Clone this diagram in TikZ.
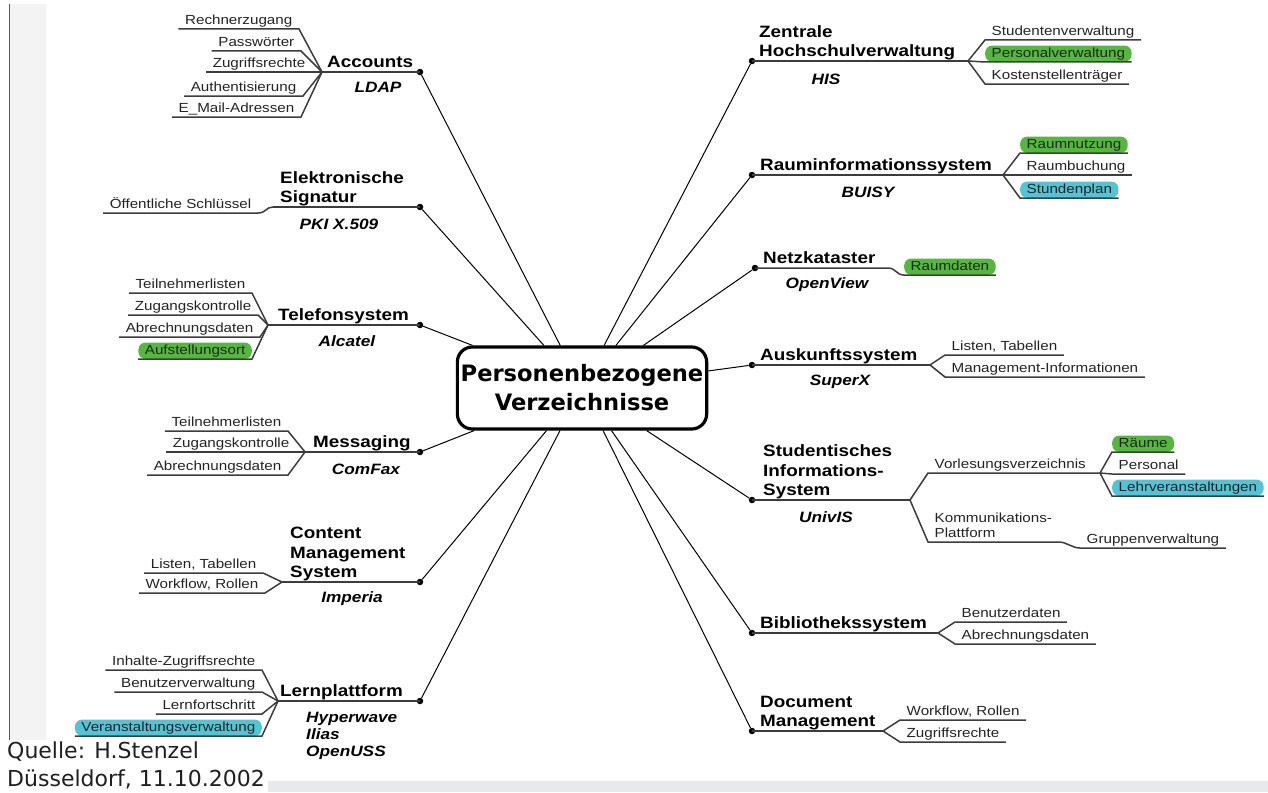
\documentclass[tikz,border=0pt]{standalone}
\usepackage{fontspec}
\setmainfont{Liberation Sans}[FakeStretch=1.15]
\newfontfamily\hubfont{DejaVu Sans}
\definecolor{leafgreen}{RGB}{84,184,62}
\definecolor{leafcyan}{RGB}{82,196,214}
\definecolor{stemgray}{RGB}{60,60,60}
\definecolor{leafink}{RGB}{35,35,35}
\definecolor{stripgray}{RGB}{243,243,244}
\definecolor{bandgray}{RGB}{232,233,235}
\begin{document}
\begin{tikzpicture}[x=1pt,y=-1pt,
    leafbase/.style={font=\fontsize{13.2}{15.5}\selectfont,text=leafink,inner xsep=6.5pt,inner ysep=2pt},
    leaf/.style={leafbase,text height=9.5pt,text depth=2.7pt},
    hlgreen/.style={leaf,fill=leafgreen,rounded corners=7pt},
    hlcyan/.style={leaf,fill=leafcyan,rounded corners=7pt},
    topic/.style={font=\fontsize{16.4}{19.5}\selectfont\bfseries,align=left,
      inner xsep=1pt,inner ysep=4pt,text depth=0pt,anchor=south west},
    system/.style={font=\fontsize{15}{16.8}\selectfont\bfseries\itshape,align=left,inner sep=1pt},
    knot/.style={circle,fill=black,inner sep=0pt,minimum size=6.5pt},
    stem/.style={draw=stemgray,line width=1.5pt},
    spoke/.style={draw=black,line width=1pt},
    hub/.style={draw,line width=3.2pt,rounded corners=15pt,minimum width=246pt,
      minimum height=82pt,align=center,font=\hubfont\fontsize{22.6}{29}\selectfont\bfseries}]
  \useasboundingbox (0,0) rectangle (1268,792);
  \fill[stripgray] (9,4) rectangle (46,740);
  \draw[gray!70!black,line width=1pt] (9,4) -- (9,740);
  \fill[bandgray] (268,781) rectangle (1268,792);

  \node[hub] (hub) at (582,388) {Personenbezogene\\Verzeichnisse};

  % linke Seite
  \node[knot] (accknot) at (420,72) {};
  \coordinate (accfan) at (322,72);
  \node[topic] (acc) at (326,72) {Accounts};
  \node[system] (accsys) at (378,87) {LDAP};
  \node[leaf,anchor=south east] (acc1) at (299,29) {Rechnerzugang};
  \node[leaf,anchor=south east] (acc2) at (301,51) {Passwörter};
  \node[leaf,anchor=south east] (acc3) at (312,72) {Zugriffsrechte};
  \node[leaf,anchor=south east] (acc4) at (303,96) {Authentisierung};
  \node[leaf,anchor=south east] (acc5) at (301,117) {E\_Mail-Adressen};
  \draw[stem] (accfan) -- (accknot.center);
  \foreach \n in {acc1,acc2,acc3,acc4,acc5}
    \draw[stem] (\n.south west) -- (\n.south east) -- (accfan);

  \node[knot] (sigknot) at (420,207) {};
  \coordinate (sigfan) at (273,207);
  \node[topic] (sig) at (279,207) {Elektronische\\Signatur};
  \node[system] (sigsys) at (339,224) {PKI X.509};
  \node[leaf,anchor=south east] (sig1) at (258,213) {Öffentliche Schlüssel};
  \draw[stem] (sigfan) -- (sigknot.center);
  \draw[stem] (sig1.south west) -- (sig1.south east) .. controls +(8,0) and +(-7,0) .. (sigfan);

  \node[knot] (telknot) at (420,325) {};
  \coordinate (telfan) at (268,325);
  \node[topic] (tel) at (277,325) {Telefonsystem};
  \node[system] (telsys) at (347,341) {Alcatel};
  \node[leaf,anchor=south east] (tel1) at (252,293) {Teilnehmerlisten};
  \node[leaf,anchor=south east] (tel2) at (258,315) {Zugangskontrolle};
  \node[leaf,anchor=south east] (tel3) at (260,337) {Abrechnungsdaten};
  \node[hlgreen,anchor=south east] (tel4) at (252,359) {Aufstellungsort};
  \draw[stem] (telfan) -- (telknot.center);
  \foreach \n in {tel1,tel2,tel3,tel4}
    \draw[stem] (\n.south west) -- (\n.south east) -- (telfan);

  \node[knot] (msgknot) at (420,452) {};
  \coordinate (msgfan) at (305,452);
  \node[topic] (msg) at (312,452) {Messaging};
  \node[system] (msgsys) at (366,469) {ComFax};
  \node[leaf,anchor=south east] (msg1) at (288,431) {Teilnehmerlisten};
  \node[leaf,anchor=south east] (msg2) at (296,452) {Zugangskontrolle};
  \node[leaf,anchor=south east] (msg3) at (288,475) {Abrechnungsdaten};
  \draw[stem] (msgfan) -- (msgknot.center);
  \foreach \n in {msg1,msg2,msg3}
    \draw[stem] (\n.south west) -- (\n.south east) -- (msgfan);

  \node[knot] (cmsknot) at (420,582) {};
  \coordinate (cmsfan) at (282,582);
  \node[topic] (cms) at (289,582) {Content\\Management\\System};
  \node[system] (cmssys) at (352,599) {Imperia};
  \node[leaf,anchor=south east] (cms1) at (263,573) {Listen, Tabellen};
  \node[leaf,anchor=south east] (cms2) at (265,593) {Workflow, Rollen};
  \draw[stem] (cmsfan) -- (cmsknot.center);
  \foreach \n in {cms1,cms2}
    \draw[stem] (\n.south west) -- (\n.south east) -- (cmsfan);

  \node[knot] (lrnknot) at (420,701) {};
  \coordinate (lrnfan) at (278,701);
  \node[topic] (lrn) at (279,701) {Lernplattform};
  \node[system,anchor=north west] (lrnsys) at (305,711) {Hyperwave\\Ilias\\OpenUSS};
  \node[leaf,anchor=south east] (lrn1) at (262,670) {Inhalte-Zugriffsrechte};
  \node[leaf,anchor=south east] (lrn2) at (262,692) {Benutzerverwaltung};
  \node[leaf,anchor=south east] (lrn3) at (262,714) {Lernfortschritt};
  \node[hlcyan,anchor=south east] (lrn4) at (262,736) {Veranstaltungsverwaltung};
  \draw[stem] (lrnfan) -- (lrnknot.center);
  \foreach \n in {lrn1,lrn2,lrn3,lrn4}
    \draw[stem] (\n.south west) -- (\n.south east) -- (lrnfan);

  % rechte Seite
  \node[knot] (hisknot) at (752,61) {};
  \coordinate (hisfan) at (968,61);
  \node[topic] (his) at (758,61) {Zentrale\\Hochschulverwaltung};
  \node[system] (hissys) at (826,79) {HIS};
  \node[leaf,anchor=south west] (his1) at (985,40) {Studentenverwaltung};
  \node[hlgreen,anchor=south west] (his2) at (985,62) {Personalverwaltung};
  \node[leaf,anchor=south west] (his3) at (985,84) {Kostenstellenträger};
  \draw[stem] (hisknot.center) -- (hisfan);
  \foreach \n in {his1,his2,his3}
    \draw[stem] (hisfan) -- (\n.south west) -- (\n.south east);

  \node[knot] (rmsknot) at (752,175) {};
  \coordinate (rmsfan) at (1003,175);
  \node[topic] (rms) at (759,175) {Rauminformationssystem};
  \node[system] (rmssys) at (868,192) {BUISY};
  \node[hlgreen,anchor=south west] (rms1) at (1020,153) {Raumnutzung};
  \node[leaf,anchor=south west] (rms2) at (1020,175) {Raumbuchung};
  \node[hlcyan,anchor=south west] (rms3) at (1020,198) {Stundenplan};
  \draw[stem] (rmsknot.center) -- (rmsfan);
  \foreach \n in {rms1,rms2,rms3}
    \draw[stem] (rmsfan) -- (\n.south west) -- (\n.south east);

  \node[knot] (netknot) at (755,268) {};
  \coordinate (netbend) at (888,268);
  \node[topic] (net) at (762,268) {Netzkataster};
  \node[system] (netsys) at (827,285) {OpenView};
  \node[hlgreen,anchor=south west] (net1) at (904,275) {Raumdaten};
  \draw[stem] (netknot.center) -- (netbend) .. controls +(8,0) and +(-8,0) .. (net1.south west) -- (net1.south east);

  \node[knot] (ausknot) at (752,365) {};
  \coordinate (ausfan) at (930,365);
  \node[topic] (aus) at (759,365) {Auskunftssystem};
  \node[system] (aussys) at (840,382) {SuperX};
  \node[leaf,anchor=south west] (aus1) at (945,355) {Listen, Tabellen};
  \node[leaf,anchor=south west] (aus2) at (945,377) {Management-Informationen};
  \draw[stem] (ausknot.center) -- (ausfan);
  \foreach \n in {aus1,aus2}
    \draw[stem] (ausfan) -- (\n.south west) -- (\n.south east);

  \node[knot] (uvsknot) at (752,500) {};
  \coordinate (uvsfan) at (910,500);
  \node[topic] (uvs) at (762,500) {Studentisches\\Informations-\\System};
  \node[system] (uvssys) at (826,517) {UnivIS};
  \node[leaf,anchor=south west] (vvz) at (928,473) {Vorlesungsverzeichnis};
  \coordinate (vvzfan) at (1100,473);
  \node[hlgreen,anchor=south west] (vvz1) at (1112,452) {Räume};
  \node[leaf,anchor=south west] (vvz2) at (1112,474) {Personal};
  \node[hlcyan,anchor=south west] (vvz3) at (1112,496) {Lehrveranstaltungen};
  \node[leafbase,align=left,text depth=0pt,inner ysep=4pt,anchor=south west] (kom) at (928,542) {Kommunikations-\\Plattform};
  \node[leaf,anchor=south west] (kom1) at (1080,548) {Gruppenverwaltung};
  \draw[stem] (uvsknot.center) -- (uvsfan);
  \draw[stem] (uvsfan) -- (vvz.south west) -- (vvz.south east) -- (vvzfan);
  \foreach \n in {vvz1,vvz2,vvz3}
    \draw[stem] (vvzfan) -- (\n.south west) -- (\n.south east);
  \draw[stem] (uvsfan) -- (kom.south west) -- (kom.south east)
    .. controls +(8,0) and +(-8,0) .. (kom1.south west) -- (kom1.south east);

  \node[knot] (bibknot) at (752,633) {};
  \coordinate (bibfan) at (938,633);
  \node[topic] (bib) at (759,633) {Bibliothekssystem};
  \node[leaf,anchor=south west] (bib1) at (955,622) {Benutzerdaten};
  \node[leaf,anchor=south west] (bib2) at (955,644) {Abrechnungsdaten};
  \draw[stem] (bibknot.center) -- (bibfan);
  \foreach \n in {bib1,bib2}
    \draw[stem] (bibfan) -- (\n.south west) -- (\n.south east);

  \node[knot] (dmsknot) at (752,731) {};
  \coordinate (dmsfan) at (883,731);
  \node[topic] (dms) at (759,731) {Document\\Management};
  \node[leaf,anchor=south west] (dms1) at (900,720) {Workflow, Rollen};
  \node[leaf,anchor=south west] (dms2) at (900,742) {Zugriffsrechte};
  \draw[stem] (dmsknot.center) -- (dmsfan);
  \foreach \n in {dms1,dms2}
    \draw[stem] (dmsfan) -- (\n.south west) -- (\n.south east);

  \foreach \k in {accknot,sigknot,telknot,msgknot,cmsknot,lrnknot,
      hisknot,rmsknot,netknot,ausknot,uvsknot,bibknot,dmsknot}
    \draw[spoke] (\k) -- (hub);

  \node[font=\hubfont\fontsize{22}{26}\selectfont,text=black!88,anchor=base west,inner sep=0pt] (quelle) at (7,758) {Quelle: H.Stenzel};
  \node[font=\hubfont\fontsize{22}{26}\selectfont,text=black!88,anchor=base west,inner sep=0pt] (ort) at (7,786) {Düsseldorf, 11.10.2002};
\end{tikzpicture}
\end{document}
